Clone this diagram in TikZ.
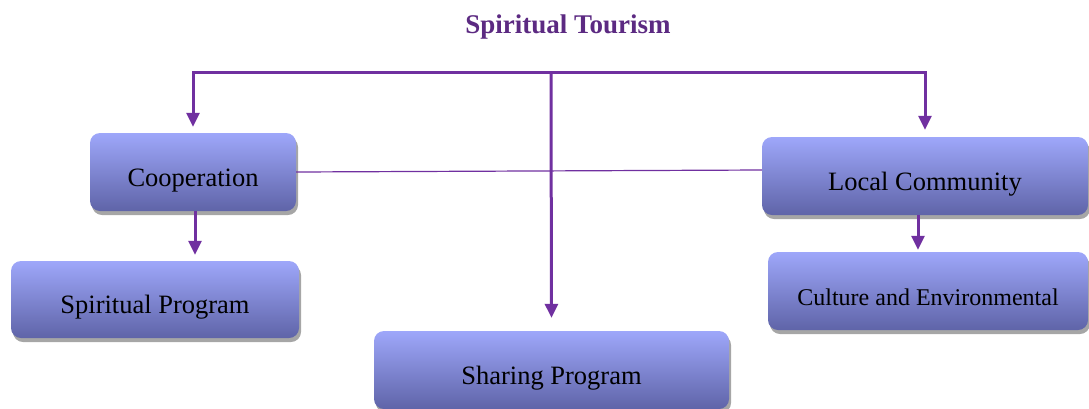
\documentclass[tikz,border=0pt]{standalone}
\usepackage{fontspec}
\setmainfont{Liberation Serif}
\usetikzlibrary{arrows.meta,shadows}
\definecolor{lnpurple}{RGB}{112,48,160}
\definecolor{ttpurple}{RGB}{92,42,130}
\definecolor{boxtop}{RGB}{158,167,250}
\definecolor{boxbot}{RGB}{95,100,168}
\tikzset{
  box/.style={rectangle, rounded corners=10pt, top color=boxtop, bottom color=boxbot, draw=none,
    drop shadow={shadow xshift=2pt, shadow yshift=-4pt, opacity=0.35, fill=black},
    font=\fontsize{26.5}{30}\selectfont, text height=30pt, text depth=2pt, inner sep=0pt},
  conn/.style={draw=lnpurple, line width=3pt, -{Triangle[length=14pt,width=13pt]}},
  thin/.style={draw=lnpurple, line width=1.2pt}
}
\begin{document}
\begin{tikzpicture}[x=1pt,y=-1pt]
\useasboundingbox (0,0) rectangle (1089,408);
\node[font=\fontsize{27}{30}\selectfont\bfseries, text=ttpurple] (title) at (568,27) {Spiritual Tourism};
\node[box, minimum width=206pt, minimum height=78pt] (coop) at (193,172) {Cooperation};
\node[box, minimum width=288pt, minimum height=77pt] (spir) at (155,299.5) {Spiritual Program};
\node[box, minimum width=355pt, minimum height=78pt] (share) at (551.5,370) {Sharing Program};
\node[box, minimum width=326pt, minimum height=78pt] (local) at (925,176) {Local Community};
\node[box, minimum width=320pt, minimum height=78pt, font=\fontsize{24}{28}\selectfont] (cult) at (928,291) {Culture and Environmental};
\coordinate (hub) at (551,72);
\draw[conn, shorten >=6pt] (hub) -| (coop.north);
\draw[conn, shorten >=7pt] (hub) -| (local.north);
\draw[conn, shorten >=13pt] (hub) -- (share.north);
\draw[conn, shorten >=6pt] ([xshift=2pt]coop.south) -- ([xshift=2pt]coop.south |- spir.north);
\draw[conn, shorten >=2pt] ([xshift=-7pt]local.south) -- ([xshift=-7pt]local.south |- cult.north);
\draw[thin] (coop.east) -- ([yshift=6pt]local.west);
\end{tikzpicture}
\end{document}
